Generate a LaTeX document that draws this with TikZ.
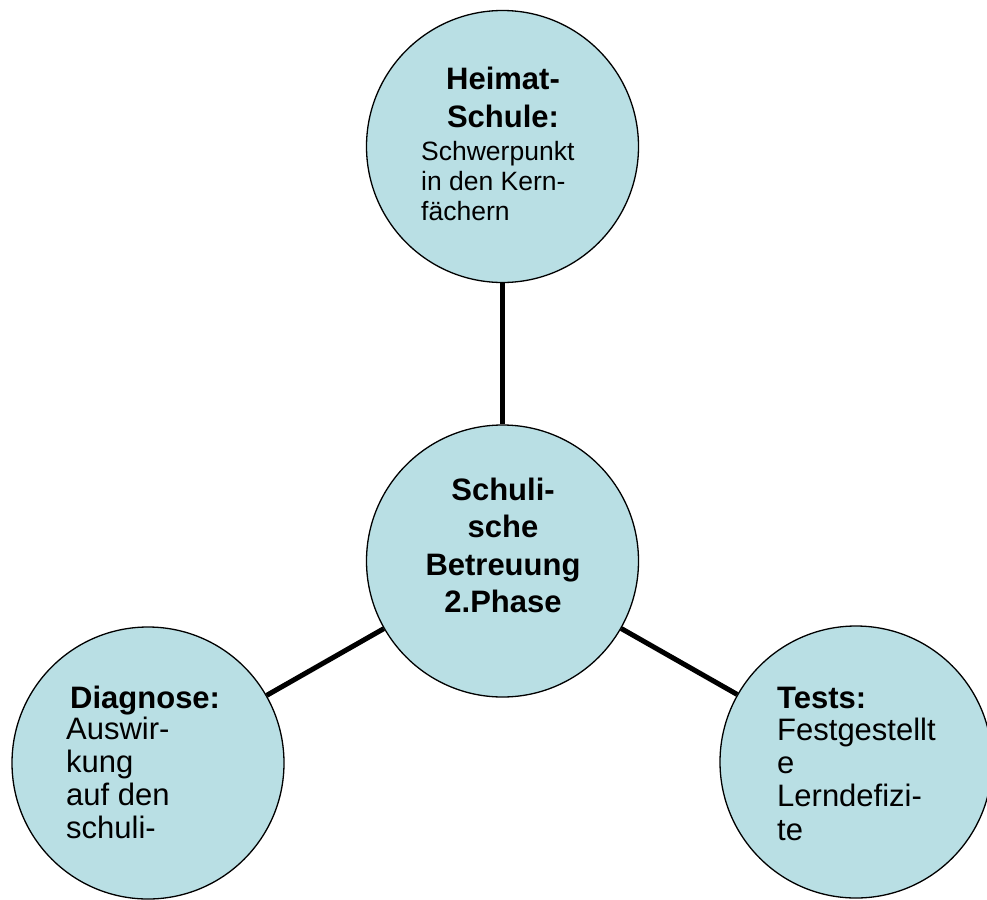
\documentclass[tikz,border=0pt]{standalone}
\usepackage{fontspec}
\setmainfont{Liberation Sans}
\definecolor{bubblefill}{RGB}{185,223,228}
\begin{document}
\begin{tikzpicture}[x=1pt,y=-1pt,
  bubble/.style={circle, draw=black, line width=1.3pt, fill=bubblefill, minimum size=272pt, inner sep=0pt},
  conn/.style={draw=black, line width=5pt},
  headc/.style={inner sep=0pt, anchor=base, align=center, font=\bfseries\fontsize{31}{37.5}\selectfont},
  headl/.style={inner sep=0pt, anchor=base west, align=left, font=\bfseries\fontsize{31}{37.5}\selectfont},
  bodytop/.style={inner sep=0pt, anchor=base west, align=left, font=\fontsize{26.5}{30}\selectfont},
  bodyl/.style={inner sep=0pt, anchor=base west, align=left, font=\fontsize{31}{32.7}\selectfont},
  bodyr/.style={inner sep=0pt, anchor=base west, align=left, font=\fontsize{31}{33.3}\selectfont}]
\useasboundingbox (0,0) rectangle (987,899);
\node[bubble] (top) at (502.5,146.5) {};
\node[bubble] (mid) at (502.5,561) {};
\node[bubble] (bl) at (148,763) {};
\node[bubble] (br) at (856,762) {};
\draw[conn] (top) -- (mid);
\draw[conn] (mid) -- (bl);
\draw[conn] (mid) -- (br);
% base anchor of a multi-line node = baseline of its last line
\node[headc] (tophead) at (503,127) {Heimat-\\Schule:};
\node[bodytop] (topbody) at (421,220) {Schwerpunkt\\in den Kern-\\fächern};
\node[headc] (midtext) at (503,612.5) {Schuli-\\sche\\Betreuung\\2.Phase};
\node[headl] (blhead) at (70,708) {Diagnose:};
\node[bodyl] (blbody) at (66,838) {Auswir-\\kung\\auf den\\schuli-};
\node[headl] (brhead) at (777,708) {Tests:};
\node[bodyr] (brbody) at (777,840) {Festgestellt\\e\\Lerndefizi-\\te};
\end{tikzpicture}
\end{document}
